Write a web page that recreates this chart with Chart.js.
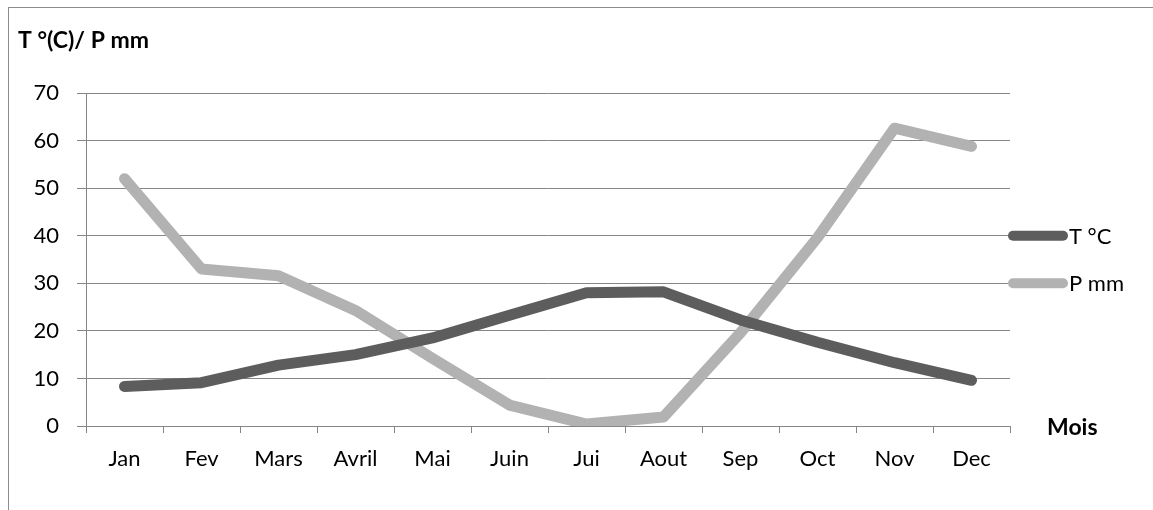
<!DOCTYPE html>
<html>
<head>
<meta charset="utf-8">
<script src="https://cdn.jsdelivr.net/npm/chart.js@4/dist/chart.umd.min.js"></script>
<style>
  html, body { margin: 0; padding: 0; background: #fff; }
  canvas { display: block; }
</style>
</head>
<body>
<canvas id="climat" width="1153" height="510"></canvas>
<script>
const months = ['Jan', 'Fev', 'Mars', 'Avril', 'Mai', 'Juin', 'Jui', 'Aout', 'Sep', 'Oct', 'Nov', 'Dec'];
const tempValues = [8.3, 9.1, 12.8, 15.0, 18.5, 23.3, 28.0, 28.2, 22.3, 17.6, 13.3, 9.6];
const precipValues = [52.0, 33.0, 31.6, 24.3, 14.2, 4.4, 0.4, 1.9, 19.6, 39.6, 62.6, 58.8];
const yMin = 0, yMax = 70, yStep = 10;
const yTitle = 'T °(C)/ P mm';
const xTitle = 'Mois';

const FONT = 'Lato, "Open Sans", sans-serif';
const gridColor = '#868686';

// frame, titles and legend drawn by hand
const decorations = {
    id: 'decorations',
    beforeDraw(chart) {
        const { ctx } = chart;
        ctx.save();
        ctx.fillStyle = '#fff';
        ctx.fillRect(0, 0, chart.width, chart.height);
        ctx.strokeStyle = '#8c8c8c';
        ctx.lineWidth = 1;
        ctx.strokeRect(8.5, 7.5, chart.width + 20, chart.height + 20);
        ctx.restore();
    },
    afterDraw(chart) {
        const { ctx, chartArea } = chart;
        const y = chart.scales.y;
        ctx.save();
        ctx.fillStyle = '#000';
        ctx.font = 'bold 23px ' + FONT;
        ctx.textBaseline = 'middle';
        ctx.textAlign = 'left';
        ctx.fillText(yTitle, 18, 41);
        ctx.fillText(xTitle, 1047, 428);

        // legend
        const rows = [y.getPixelForValue(40), y.getPixelForValue(30)];
        chart.data.datasets.forEach((ds, i) => {
            const ly = rows[i];
            ctx.strokeStyle = ds.borderColor;
            ctx.lineWidth = 10;
            ctx.lineCap = 'round';
            ctx.beginPath();
            ctx.moveTo(chartArea.right + 3, ly);
            ctx.lineTo(chartArea.right + 53, ly);
            ctx.stroke();
            ctx.fillStyle = '#000';
            ctx.font = '22px ' + FONT;
            ctx.fillText(ds.label, chartArea.right + 59, ly + 1);
        });
        ctx.restore();
    }
};

new Chart(document.getElementById('climat'), {
    type: 'line',
    data: {
        labels: months,
        datasets: [
            {
                label: 'T °C',
                data: tempValues,
                borderColor: '#5d5d5d',
                backgroundColor: '#5d5d5d',
                borderWidth: 11,
                tension: 0,
                pointRadius: 0,
                borderCapStyle: 'round',
                borderJoinStyle: 'round'
            },
            {
                label: 'P mm',
                data: precipValues,
                borderColor: '#b2b2b2',
                backgroundColor: '#b2b2b2',
                borderWidth: 11,
                tension: 0,
                pointRadius: 0,
                borderCapStyle: 'round',
                borderJoinStyle: 'round'
            }
        ]
    },
    options: {
        responsive: false,
        animation: false,
        layout: {
            padding: { left: 8, right: 143, top: 93, bottom: 0 }
        },
        plugins: {
            legend: { display: false },
            tooltip: { enabled: false }
        },
        scales: {
            x: {
                offset: true,
                afterFit(scale) { scale.height = 84; },
                grid: {
                    offset: true,
                    drawOnChartArea: false,
                    drawTicks: true,
                    tickLength: 7,
                    tickColor: gridColor
                },
                border: { display: true, color: gridColor, width: 1 },
                ticks: {
                    color: '#000',
                    padding: 13,
                    maxRotation: 0,
                    autoSkip: false,
                    font: { family: FONT, size: 22 }
                }
            },
            y: {
                min: yMin,
                max: yMax,
                afterFit(scale) { scale.width = 78; },
                grid: {
                    color: gridColor,
                    lineWidth: 1,
                    tickLength: 9,
                    tickColor: gridColor
                },
                border: { display: true, color: gridColor, width: 1 },
                ticks: {
                    stepSize: yStep,
                    color: '#000',
                    padding: 18,
                    font: { family: FONT, size: 22 }
                }
            }
        }
    },
    plugins: [decorations]
});
</script>
</body>
</html>
